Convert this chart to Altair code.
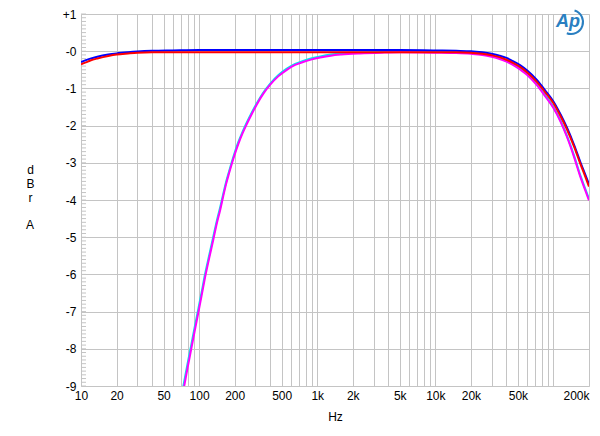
import altair as alt
import pandas as pd
import numpy as np

# ---- data ----
blue_f  = [10, 11, 12, 14, 17, 20, 25, 30, 40, 60, 100, 200, 500, 1000, 2000, 5000, 10000, 15000, 20000, 25000, 30000, 35000, 40000, 45000, 52500, 60000, 72700, 85000, 100000, 115000, 130000, 150000, 169000, 185000, 200000]
blue_db = [-0.29, -0.24, -0.20, -0.14, -0.09, -0.06, -0.03, -0.01, 0.01, 0.02, 0.03, 0.03, 0.03, 0.03, 0.03, 0.03, 0.02, 0.01, 0.0, -0.03, -0.07, -0.12, -0.18, -0.26, -0.38, -0.52, -0.78, -1.05, -1.35, -1.70, -2.05, -2.53, -2.98, -3.30, -3.58]

red_f  = [10, 11, 12, 14, 17, 20, 25, 30, 40, 60, 100, 200, 500, 1000, 2000, 5000, 10000, 15000, 20000, 25000, 30000, 35000, 40000, 45000, 52500, 60000, 72700, 85000, 100000, 115000, 130000, 150000, 169000, 185000, 200000]
red_db = [-0.35, -0.30, -0.25, -0.19, -0.13, -0.09, -0.06, -0.04, -0.03, -0.03, -0.03, -0.03, -0.03, -0.03, -0.03, -0.03, -0.03, -0.03, -0.04, -0.07, -0.11, -0.16, -0.23, -0.31, -0.43, -0.57, -0.83, -1.10, -1.40, -1.75, -2.10, -2.58, -3.03, -3.35, -3.64]

mag_f  = [72, 74.6, 80, 85.5, 92, 98.6, 105, 112, 122, 132, 141, 151, 160, 169, 179, 189, 200, 215, 233, 254, 280, 308, 350, 400, 470, 553, 650, 760, 900, 1060, 1300, 1600, 2300, 3500, 5000, 10000, 15000, 20000, 25000, 30000, 35000, 40000, 45000, 52500, 60000, 72700, 85000, 100000, 115000, 130000, 150000, 169000, 185000, 200000]
mag_db = [-9.28, -9.02, -8.50, -8.03, -7.50, -7.02, -6.57, -6.10, -5.55, -5.06, -4.64, -4.26, -3.90, -3.58, -3.29, -3.03, -2.78, -2.49, -2.21, -1.95, -1.68, -1.43, -1.14, -0.90, -0.67, -0.50, -0.37, -0.29, -0.22, -0.17, -0.12, -0.09, -0.06, -0.04, -0.03, -0.04, -0.05, -0.07, -0.10, -0.15, -0.21, -0.28, -0.36, -0.50, -0.64, -0.92, -1.21, -1.53, -1.90, -2.30, -2.86, -3.38, -3.72, -4.01]

cyan_f  = mag_f
cyan_db = [-9.16, -8.90, -8.39, -7.92, -7.40, -6.92, -6.48, -6.01, -5.47, -4.98, -4.57, -4.19, -3.84, -3.52, -3.24, -2.98, -2.73, -2.44, -2.17, -1.91, -1.64, -1.40, -1.11, -0.87, -0.64, -0.47, -0.34, -0.26, -0.19, -0.14, -0.09, -0.06, -0.04, -0.02, -0.01, -0.01, -0.02, -0.04, -0.07, -0.12, -0.18, -0.25, -0.33, -0.47, -0.61, -0.89, -1.18, -1.50, -1.87, -2.27, -2.82, -3.34, -3.68, -3.97]

series_names = ["cyan", "magenta", "blue", "red"]
series_colors = ["#00e5ee", "#ff00ff", "#0000ff", "#ff0000"]

x_label_values = [10, 20, 50, 100, 200, 500, 1000, 2000, 5000, 10000, 20000, 50000, 200000]
x_grid_values = [m * 10 ** e for e in range(1, 6) for m in range(1, 10)] + [200000]
x_grid_values = [v for v in x_grid_values if v <= 200000]
y_values = list(range(-9, 2))
y_minor = [round(v, 1) for v in np.arange(-9.0, 1.0001, 0.1)]

# ---- build tables ----
rows = []
order = 0
for name, fs, ds in [("cyan", cyan_f, cyan_db), ("magenta", mag_f, mag_db),
                     ("blue", blue_f, blue_db), ("red", red_f, red_db)]:
    for f, d in zip(fs, ds):
        rows.append({"series": name, "f": f, "db": d, "o": order})
    order += 1
df = pd.DataFrame(rows)
minor_df = pd.DataFrame({"db": y_minor})

FONT = "Liberation Sans"
GRID = "#c4c4c4"
LOGO = "#2a7fc1"

xscale = alt.Scale(type="log", domain=[10, 200000], nice=False)
yscale = alt.Scale(domain=[-9, 1], nice=False, zero=False)

label_list = "[" + ",".join(str(v) for v in x_label_values) + "]"

y_axis = alt.Axis(values=y_values, grid=True, gridColor=GRID, gridWidth=1,
                  ticks=False, domain=False, labelFont=FONT, labelFontSize=12,
                  labelColor="#000000", labelPadding=5, labelFlush=False, labelOverlap=False,
                  labelExpr="datum.value > 0 ? '+' + datum.value : (datum.value == 0 ? '-0' : '' + datum.value)",
                  title=["d", "B", "r"], titleAngle=0, titleAlign="center",
                  titleBaseline="top", titleX=-51, titleY=150, titleLineHeight=14,
                  titleFont=FONT, titleFontSize=12, titleFontWeight="normal",
                  titleColor="#000000")

lines = alt.Chart(df).mark_line(strokeWidth=2, clip=True, interpolate="monotone").encode(
    x=alt.X("f:Q", scale=xscale,
            axis=alt.Axis(values=x_grid_values, grid=True, gridColor=GRID, gridWidth=1,
                          ticks=False, domain=False, labelFont=FONT, labelFontSize=12,
                          labelColor="#000000", labelPadding=4, labelFlush=False, labelOverlap=False,
                          labelAlign=alt.expr("datum.value >= 200000 ? 'right' : 'center'"),
                          labelExpr="indexof(" + label_list + ", datum.value) >= 0 ? (datum.value >= 1000 ? (datum.value/1000) + 'k' : '' + datum.value) : ''",
                          title="Hz", titleFont=FONT, titleFontSize=12, titleFontWeight="normal",
                          titleColor="#000000", titlePadding=10)),
    y=alt.Y("db:Q", scale=yscale, axis=y_axis),
    color=alt.Color("series:N", scale=alt.Scale(domain=series_names, range=series_colors), legend=None),
    order=alt.Order("o:Q"),
    detail="series:N",
)

minor_ticks = alt.Chart(minor_df).mark_rule(color="#c4c4c4", strokeWidth=1).encode(
    y=alt.Y("db:Q", scale=yscale, axis=y_axis),
    x=alt.value(0),
    x2=alt.value(5),
)

unit_df = pd.DataFrame({"t": ["A"]})
unit_text = alt.Chart(unit_df).mark_text(font=FONT, fontSize=12, color="#000000",
                                         align="center", baseline="top").encode(
    text="t:N", x=alt.value(-51), y=alt.value(206))

logo_df = pd.DataFrame({"t": ["Ap"]})
logo_text = alt.Chart(logo_df).mark_text(font=FONT, fontSize=18, fontStyle="italic",
                                         fontWeight="bold", color=LOGO).encode(
    text="t:N", x=alt.value(487), y=alt.value(8))
logo_arc = alt.Chart(logo_df).mark_arc(radius=11, radius2=13, color=LOGO).encode(
    x=alt.value(490), y=alt.value(8), theta=alt.value(0.3), theta2=alt.value(3.5))

chart = alt.layer(minor_ticks, lines, unit_text, logo_text, logo_arc).properties(
    width=508, height=372,
    autosize=alt.AutoSizeParams(type="none"),
    padding={"left": 73, "top": 6, "right": 3, "bottom": 40},
).configure_view(stroke="#b4b4b4", strokeWidth=1).configure(background="#ffffff")

chart.save("out.html", embed_options={"renderer": "svg", "actions": False})
